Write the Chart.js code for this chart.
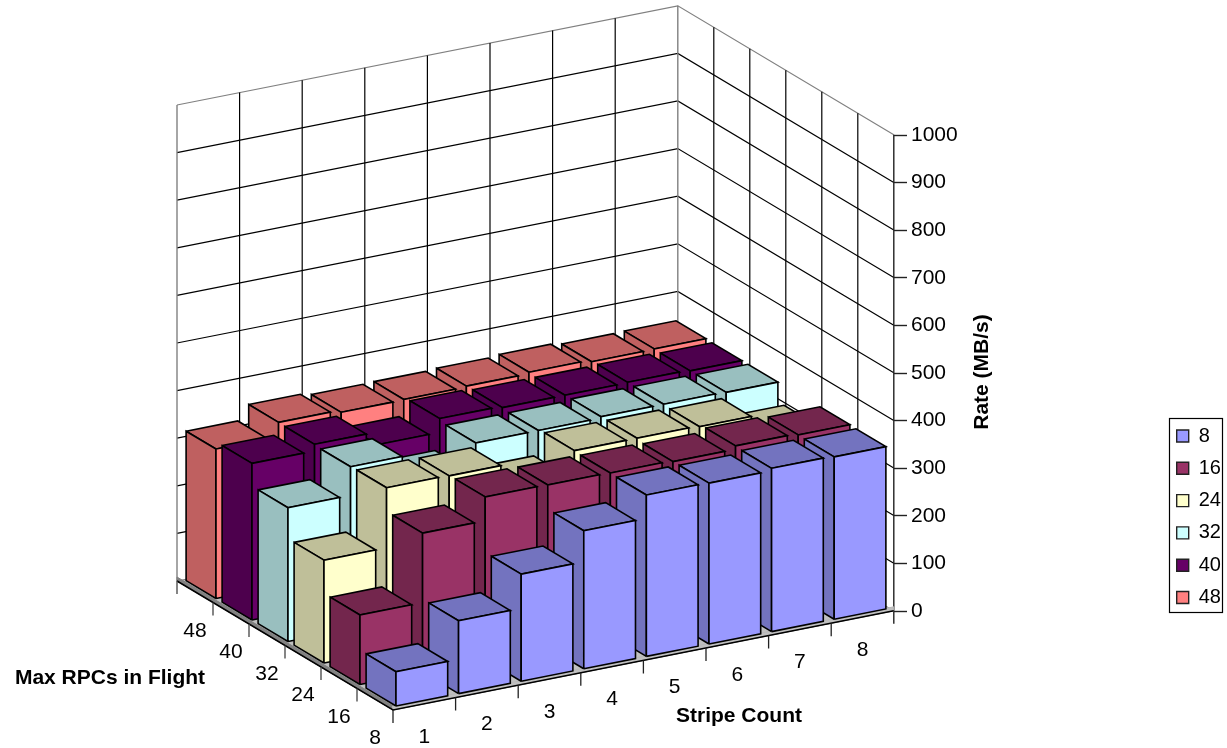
<!DOCTYPE html>
<html>
<head>
<meta charset="utf-8">
<title>Rate by stripe count and RPCs in flight</title>
<script src="https://cdn.jsdelivr.net/npm/chart.js@4/dist/chart.umd.js"></script>
<style>
  html, body { margin: 0; padding: 0; background: #fff; }
  canvas { display: block; }
</style>
</head>
<body>
<canvas id="rateChart" width="1227" height="748"></canvas>
<script>
const stripeCounts = ["1", "2", "3", "4", "5", "6", "7", "8"];
const rpcLabels = ["8", "16", "24", "32", "40", "48"];
const rateTicks = [0, 100, 200, 300, 400, 500, 600, 700, 800, 900, 1000];

const rate8 = [72, 153, 225, 290, 339, 338, 343, 341];
const rate16 = [146, 292, 342, 341, 340, 338, 345, 342];
const rate24 = [216, 342, 341, 298, 342, 342, 340, 300];
const rate32 = [281, 341, 290, 339, 339, 342, 342, 341];
const rate40 = [329, 343, 316, 345, 342, 342, 343, 341];
const rate48 = [314, 344, 339, 340, 342, 345, 341, 342];
const seriesRates = [rate8, rate16, rate24, rate32, rate40, rate48];

const frontColors = ["#9999FF", "#993366", "#FFFFCC", "#CCFFFF", "#660066", "#FF8080"];
const shadeColors = ["#7373BF", "#73264D", "#BFBF99", "#99BFBF", "#4D004D", "#BF6060"];

// projection of the 3d box onto the page, parallel so it stays simple
const stepS = { x: 62.6, y: -12.4 };
const stepR = { x: -36, y: -21.5 };
const origin = { x: 393, y: 710 };
const zeroY = 611;
const pxPerRate = 0.476;

const barGapS = 0.116, barWidthS = 0.826;
const barGapR = 0.119, barDepthR = 0.83;
const tickDrop = 13 / pxPerRate;
const slabRise = 4 / pxPerRate;

function project(s, r, rate) {
  const py = origin.y + s * stepS.y + r * stepR.y;
  return {
    x: origin.x + s * stepS.x + r * stepR.x,
    y: rate + (zeroY - py) / pxPerRate,
  };
}

const datasets = [];

function addShape(points, stroke, fill, width) {
  datasets.push({
    data: points,
    borderColor: stroke,
    borderWidth: width,
    backgroundColor: fill || "transparent",
    fill: fill ? "shape" : false,
    pointRadius: 0,
    tension: 0,
    clip: false,
  });
}

const close = (a, b, c, d) => [a, b, c, d, a];

// walls
rateTicks.forEach((v) => {
  const color = v === 1000 ? "#808080" : "#000";
  if (v > 0) addShape([project(0, 6, v), project(8, 6, v), project(8, 0, v)], color, null, 1.2);
});
for (let s = 1; s < stripeCounts.length; s++) {
  addShape([project(s, 6, 0), project(s, 6, 1000)], "#000", null, 1.2);
}
for (let r = 1; r < rpcLabels.length; r++) {
  addShape([project(8, r, 0), project(8, r, 1000)], "#000", null, 1.2);
}
addShape([project(8, 6, 0), project(8, 6, 1000)], "#808080", null, 1.4);
addShape([project(0, 6, 0), project(0, 6, 1000)], "#808080", null, 1.4);
addShape([project(8, 0, -tickDrop), project(8, 0, 1000)], "#222", null, 1.4);

// floor slab and its ticks
addShape(close(project(0, 0, 0), project(8, 0, 0), project(8, 6, 0), project(0, 6, 0)), "#808080", "#C0C0C0", 1);
addShape(close(project(0, 0, 0), project(0, 6, 0), project(0, 6, slabRise), project(0, 0, slabRise)), "#808080", "#808080", 1);
addShape(close(project(0, 0, 0), project(8, 0, 0), project(8, 0, slabRise), project(0, 0, slabRise)), "#B8B8B8", "#C0C0C0", 1);
addShape([project(0, 6, 0), project(0, 0, 0), project(8, 0, 0)], "#000", null, 1.5);
for (let s = 0; s < stripeCounts.length; s++) {
  addShape([project(s, 0, 0), project(s, 0, -tickDrop)], "#222", null, 1.3);
}
for (let r = 1; r <= rpcLabels.length; r++) {
  addShape([project(0, r, 0), project(0, r, -tickDrop)], "#444", null, 1.3);
}

// bars, back row first and right to left so the near ones cover the far ones
for (let r = rpcLabels.length - 1; r >= 0; r--) {
  for (let s = stripeCounts.length - 1; s >= 0; s--) {
    const v = seriesRates[r][s];
    const s0 = s + barGapS, s1 = s0 + barWidthS;
    const r0 = r + barGapR, r1 = r0 + barDepthR;
    addShape(close(project(s0, r1, v), project(s1, r1, v), project(s1, r0, v), project(s0, r0, v)), "#000", shadeColors[r], 1.6);
    addShape(close(project(s0, r0, 0), project(s0, r1, 0), project(s0, r1, v), project(s0, r0, v)), "#000", shadeColors[r], 1.6);
    addShape(close(project(s0, r0, 0), project(s1, r0, 0), project(s1, r0, v), project(s0, r0, v)), "#000", frontColors[r], 1.6);
  }
}

// chart.js paints the highest order first
datasets.forEach((d, i) => { d.order = datasets.length - i; });

const textFont = "Liberation Sans";

const labelsPlugin = {
  id: "labelsPlugin",
  afterLayout(chart) {
    // legend sits low on the right, not centred
    const legend = chart.legend;
    const h = legend.height;
    legend.left = 1164.4;
    legend.right = legend.left + legend.width;
    legend.top = 413.7;
    legend.bottom = legend.top + h + 40;
  },
  afterDraw(chart) {
    const { ctx, scales } = chart;
    const px = (p) => ({ x: scales.x.getPixelForValue(p.x), y: scales.y.getPixelForValue(p.y) });
    ctx.save();
    ctx.fillStyle = "#000";
    ctx.textAlign = "center";
    ctx.textBaseline = "middle";

    ctx.font = `21px "${textFont}"`;
    stripeCounts.forEach((label, i) => {
      const p = px(project(i + 0.5, 0, 0));
      ctx.fillText(label, p.x, p.y + 33);
    });
    rpcLabels.forEach((label, i) => {
      const p = px(project(0, i + 0.5, 0));
      ctx.fillText(label, p.x, p.y + 39);
    });

    ctx.font = `bold 21px "${textFont}"`;
    ctx.fillText("Max RPCs in Flight", 110, 678);
    ctx.fillText("Stripe Count", 739, 716);
    ctx.translate(982, 372);
    ctx.rotate(-Math.PI / 2);
    ctx.fillText("Rate (MB/s)", 0, 0);
    ctx.restore();

    // legend frame
    ctx.save();
    ctx.strokeStyle = "#000";
    ctx.lineWidth = 1.2;
    ctx.strokeRect(1169.5, 418.5, 53, 194);
    ctx.restore();
  },
};

new Chart(document.getElementById("rateChart").getContext("2d"), {
  type: "line",
  data: { datasets },
  plugins: [labelsPlugin],
  options: {
    responsive: false,
    animation: false,
    layout: { padding: 0 },
    events: [],
    scales: {
      x: { type: "linear", display: false, min: 0, max: 894 },
      y: {
        type: "linear",
        position: "right",
        min: (zeroY - 748) / pxPerRate,
        max: zeroY / pxPerRate,
        afterBuildTicks: (scale) => {
          scale.ticks = rateTicks.map((value) => ({ value }));
        },
        afterFit: (scale) => {
          scale.width = 273;
          scale.paddingTop = 0;
          scale.paddingBottom = 0;
        },
        border: { display: false },
        grid: { drawOnChartArea: false, drawTicks: true, tickLength: 13, tickColor: "#222", tickWidth: 1.4 },
        ticks: {
          autoSkip: false,
          padding: 4,
          color: "#000",
          font: { family: textFont, size: 21 },
          callback: (value) => String(value),
        },
      },
    },
    plugins: {
      tooltip: { enabled: false },
      title: { display: false },
      legend: {
        position: "right",
        align: "start",
        maxWidth: 60,
        labels: {
          boxWidth: 12,
          boxHeight: 12,
          padding: 12.3,
          color: "#000",
          font: { family: textFont, size: 20 },
          generateLabels: () => rpcLabels.map((text, i) => ({
            text,
            fillStyle: frontColors[i],
            strokeStyle: "#222",
            lineWidth: 1.4,
          })),
        },
      },
    },
  },
});
</script>
</body>
</html>
